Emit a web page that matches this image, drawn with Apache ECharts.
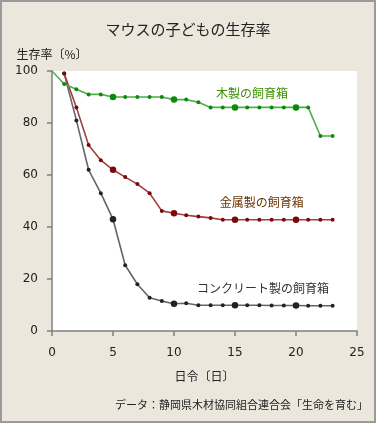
<!DOCTYPE html>
<html>
<head>
<meta charset="utf-8">
<script src="https://cdn.jsdelivr.net/npm/echarts@6/dist/echarts.min.js"></script>
<style>
html, body { margin: 0; padding: 0; background: #ebe7dc; }
#chart { width: 376px; height: 423px; }
</style>
</head>
<body>
<div id="chart"></div>
<script>
// 日令
var woodDays = [0, 1, 2, 3, 4, 5, 6, 7, 8, 9, 10, 11, 12, 13, 14, 15, 16, 17, 18, 19, 20, 21, 22, 23];
var otherDays = [1, 2, 3, 4, 5, 6, 7, 8, 9, 10, 11, 12, 13, 14, 15, 16, 17, 18, 19, 20, 21, 22, 23];
// 生存率（%）
var woodRate = [100, 95, 93, 91, 91, 90, 90, 90, 90, 90, 89, 89, 88, 86, 86, 86, 86, 86, 86, 86, 86, 86, 75, 75];
var metalRate = [99, 86, 71.5, 65.7, 62, 59.2, 56.5, 53, 46.2, 45.3, 44.5, 44, 43.5, 42.8, 42.8, 42.8, 42.8, 42.8, 42.8, 42.8, 42.8, 42.8, 42.8];
var concreteRate = [99, 81, 62, 53, 43, 25.3, 18, 12.8, 11.5, 10.5, 10.7, 9.9, 9.9, 9.9, 9.9, 9.9, 9.9, 9.8, 9.8, 9.8, 9.7, 9.7, 9.7];
var seriesNames = ['木製の飼育箱', '金属製の飼育箱', 'コンクリート製の飼育箱'];
// ラベル位置（データ座標）
var labelPos = [[16.4, 91.2], [17.2, 49.5], [17.3, 16.2]];
var yTicks = ['0', '20', '40', '60', '80', '100'];

var toPairs = function(days, vals) {
	var out = [];
	for (var i = 0; i < days.length; i++) {
		out.push([days[i], vals[i]]);
	}
	return out;
};

var markSize = function(val) {
	if (val[0] > 0 && val[0] % 5 === 0) return 6.5;
	if (val[0] === 0) return 0;
	return 4;
};

var makeSeries = function(idx, data, lineColor, dotColor, textColor) {
	return {
		name: seriesNames[idx],
		type: 'line',
		data: data,
		symbol: 'circle',
		symbolSize: markSize,
		itemStyle: { color: dotColor },
		lineStyle: { color: lineColor, width: 1.6 },
		emphasis: { disabled: true },
		z: 3 - idx,
		markPoint: {
			symbol: 'circle',
			symbolSize: 0,
			data: [{
				coord: labelPos[idx],
				value: seriesNames[idx],
				label: {
					show: true,
					position: 'inside',
					formatter: seriesNames[idx],
					color: textColor,
					fontSize: 12,
					fontFamily: 'Noto Sans CJK JP'
				}
			}]
		}
	};
};

var chart = echarts.init(document.getElementById('chart'));
var option = {
	backgroundColor: '#ebe7dc',
	animation: false,
	title: {
		text: 'マウスの子どもの生存率',
		left: 'center',
		top: 17,
		textStyle: { color: '#222', fontSize: 15, fontWeight: 'normal', fontFamily: 'Noto Sans CJK JP' }
	},
	grid: {
		left: 52,
		top: 71,
		right: 19,
		bottom: 92,
		show: true,
		backgroundColor: '#ffffff',
		borderWidth: 0,
		outerBoundsMode: 'none'
	},
	xAxis: {
		type: 'value',
		min: 0,
		max: 25,
		interval: 5,
		name: '日令〔日〕',
		nameLocation: 'middle',
		nameGap: 39,
		nameTextStyle: { color: '#222', fontSize: 12, fontFamily: 'Noto Sans CJK JP' },
		axisLine: { lineStyle: { color: '#808080', width: 1.5 } },
		axisTick: { length: 5, lineStyle: { color: '#808080', width: 1.5 } },
		axisLabel: { color: '#222', fontSize: 12, margin: 16, fontFamily: 'DejaVu Sans' },
		splitLine: { show: false }
	},
	yAxis: {
		type: 'value',
		min: 0,
		max: 100,
		interval: 20,
		name: '生存率〔%〕',
		nameLocation: 'end',
		nameGap: 11,
		nameTextStyle: { color: '#222', fontSize: 12, fontFamily: 'Noto Sans CJK JP' },
		axisLine: { show: true, lineStyle: { color: '#808080', width: 1.5 } },
		axisTick: { show: true, length: 5, lineStyle: { color: '#808080', width: 1.5 } },
		axisLabel: {
			color: '#222', fontSize: 12, margin: 14, fontFamily: 'DejaVu Sans',
			formatter: function(v) { return yTicks[v / 20]; }
		},
		splitLine: { show: false }
	},
	graphic: [{
		type: 'text',
		right: 8,
		top: 399,
		style: {
			text: 'データ：静岡県木材協同組合連合会「生命を育む」',
			fill: '#222',
			fontSize: 11,
			fontFamily: 'Noto Sans CJK JP'
		}
	}, {
		type: 'rect',
		shape: { x: 1, y: 1, width: 374, height: 421 },
		style: { fill: 'none', stroke: '#9a9a9a', lineWidth: 2 },
		silent: true
	}],
	series: [
		makeSeries(0, toPairs(woodDays, woodRate), '#4cae4c', '#0b8a0b', '#3c8f00'),
		makeSeries(1, toPairs(otherDays, metalRate), '#a04040', '#7a0a0a', '#6b3300'),
		makeSeries(2, toPairs(otherDays, concreteRate), '#666666', '#222222', '#333333')
	]
};
chart.setOption(option);
</script>
</body>
</html>
